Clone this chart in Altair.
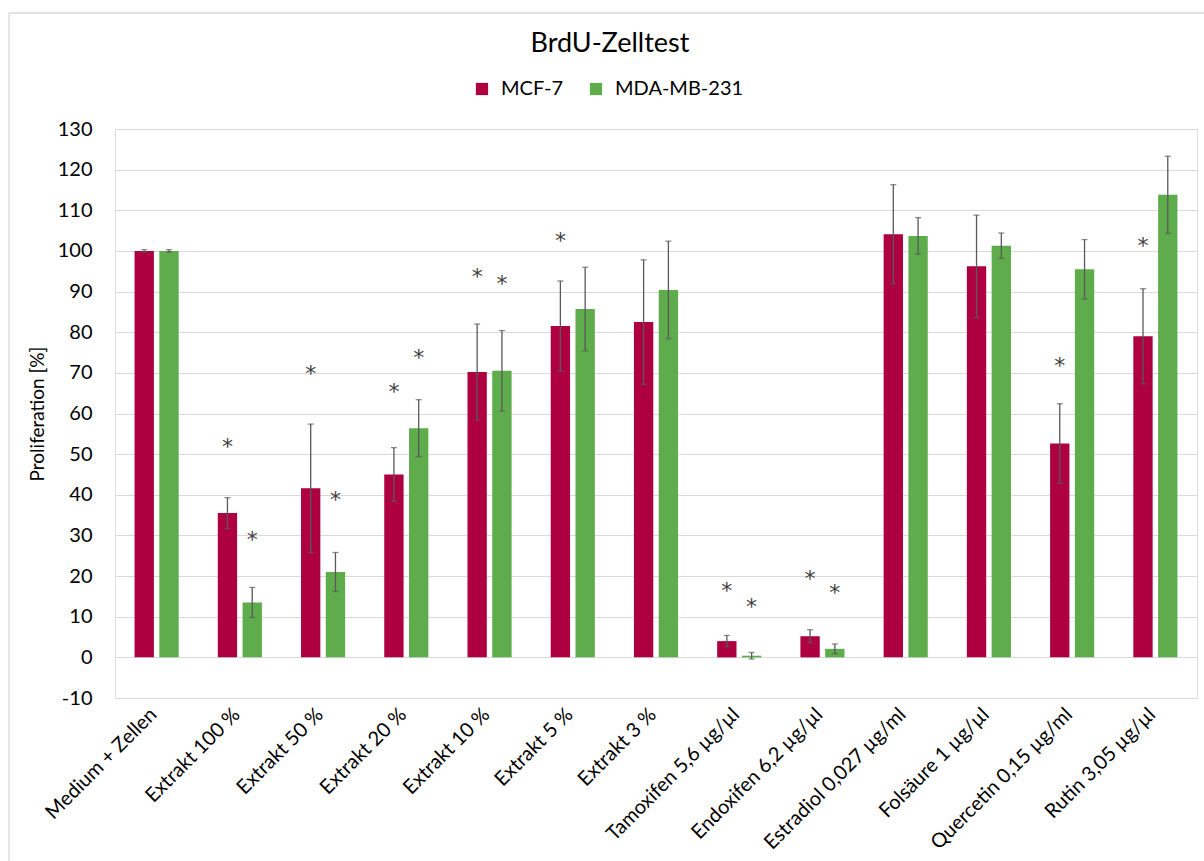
import altair as alt
import pandas as pd

categories = ["Medium + Zellen", "Extrakt 100 %", "Extrakt 50 %", "Extrakt 20 %",
              "Extrakt 10 %", "Extrakt 5 %", "Extrakt 3 %", "Tamoxifen 5,6 µg/µl",
              "Endoxifen 6,2 µg/µl", "Estradiol 0,027  µg/ml", "Folsäure 1 µg/µl",
              "Quercetin 0,15 µg/ml", "Rutin 3,05 µg/µl"]
series = ["MCF-7", "MDA-MB-231"]
mcf7 = [100, 35.5, 41.6, 45.0, 70.2, 81.5, 82.5, 4.0, 5.2, 104.1, 96.2, 52.6, 79.0]
mcf7_err = [0.3, 3.8, 15.8, 6.6, 11.8, 11.1, 15.3, 1.4, 1.6, 12.2, 12.6, 9.8, 11.7]
mda = [100, 13.5, 21.0, 56.4, 70.5, 85.7, 90.4, 0.4, 2.1, 103.7, 101.3, 95.5, 113.8]
mda_err = [0.3, 3.7, 4.8, 7.0, 9.9, 10.3, 12.0, 0.8, 1.2, 4.5, 3.1, 7.3, 9.5]
mcf7_star = [None, 53, 71, 66.5, 94.8, 103.7, None, 17.5, 20.4, None, None, 73, 102.4]
mda_star = [None, 30, 40, 75, 93, None, None, 13.5, 17, None, None, None, None]
colors = ["#AE0040", "#5EAC4B"]

rows = []
for s, vals, errs, stars in [(series[0], mcf7, mcf7_err, mcf7_star),
                             (series[1], mda, mda_err, mda_star)]:
    for c, v, e, st in zip(categories, vals, errs, stars):
        rows.append({"cat": c, "series": s, "value": v, "lo": v - e, "hi": v + e, "star": st})
df = pd.DataFrame(rows)
stars_df = df.dropna(subset=["star"])

FONT = "Lato"
x_enc = alt.X("cat:N", sort=categories,
              scale=alt.Scale(paddingInner=0.47, paddingOuter=0.235),
              axis=alt.Axis(title=None, labelAngle=-45, labelAlign="right", labelBaseline="top",
                            labelFontSize=20, labelPadding=6, labelOffset=-10, labelLimit=400,
                            domain=False, ticks=False, grid=False, labelColor="#000000",
                            labelFont=FONT))
xo_enc = alt.XOffset("series:N", sort=series, scale=alt.Scale(paddingInner=0.22, paddingOuter=0))
y_scale = alt.Scale(domain=[-10, 130], nice=False)

base = alt.Chart(df)
bars = base.mark_bar().encode(
    x=x_enc,
    xOffset=xo_enc,
    y=alt.Y("value:Q", scale=y_scale,
            axis=alt.Axis(title="Proliferation [%]", values=list(range(-10, 131, 10)),
                          labelExpr="'' + datum.value",
                          domain=False, ticks=False, gridColor="#D9D9D9", gridWidth=1.2,
                          labelFontSize=20, labelPadding=23, labelColor="#000000",
                          titleFontSize=19, titleFontWeight="normal", titleColor="#000000",
                          titlePadding=10, labelFont=FONT, titleFont=FONT)),
    color=alt.Color("series:N", scale=alt.Scale(domain=series, range=colors),
                    legend=alt.Legend(title=None, orient="none", direction="horizontal",
                                      legendX=357, legendY=-50, symbolType="square",
                                      symbolSize=150, symbolStrokeWidth=0, labelFontSize=20,
                                      labelFont=FONT, labelColor="#000000", labelOffset=9,
                                      columnPadding=23)),
)
rules = base.mark_rule(color="#595959", strokeWidth=1.3).encode(
    x=alt.X("cat:N", sort=categories), xOffset=alt.XOffset("series:N", sort=series),
    y="lo:Q", y2="hi:Q")
cap_lo = base.mark_tick(color="#595959", size=6, thickness=1.3).encode(
    x=alt.X("cat:N", sort=categories), xOffset=alt.XOffset("series:N", sort=series), y="lo:Q")
cap_hi = base.mark_tick(color="#595959", size=6, thickness=1.3).encode(
    x=alt.X("cat:N", sort=categories), xOffset=alt.XOffset("series:N", sort=series), y="hi:Q")
star_marks = alt.Chart(stars_df).mark_text(text="*", fontSize=22, fill="#404040",
                                           baseline="middle", font="DejaVu Sans", dy=5).encode(
    x=alt.X("cat:N", sort=categories), xOffset=alt.XOffset("series:N", sort=series), y="star:Q")

frame_df = pd.DataFrame({"a": [0]})
top_border = alt.Chart(frame_df).mark_rule(color="#D9D9D9", strokeWidth=1.3).encode(
    x=alt.value(-106), x2=alt.value(1100), y=alt.value(-116))
left_border = alt.Chart(frame_df).mark_rule(color="#D9D9D9", strokeWidth=1.3).encode(
    x=alt.value(-106), y=alt.value(-116), y2=alt.value(740))

chart = alt.layer(bars, rules, cap_lo, cap_hi, star_marks, top_border, left_border).properties(
    width=1082, height=569,
    padding={"left": 115, "top": 129, "right": 7, "bottom": 163},
    autosize=alt.AutoSizeParams(type="none"),
    title=alt.TitleParams("BrdU-Zelltest", fontSize=27, font=FONT, fontWeight="normal",
                          color="#000000", anchor="middle", dx=-46, offset=-46),
).configure_view(stroke=None).configure(font=FONT, background="white")

chart.save("out.html", embed_options={"renderer": "svg", "actions": False})
